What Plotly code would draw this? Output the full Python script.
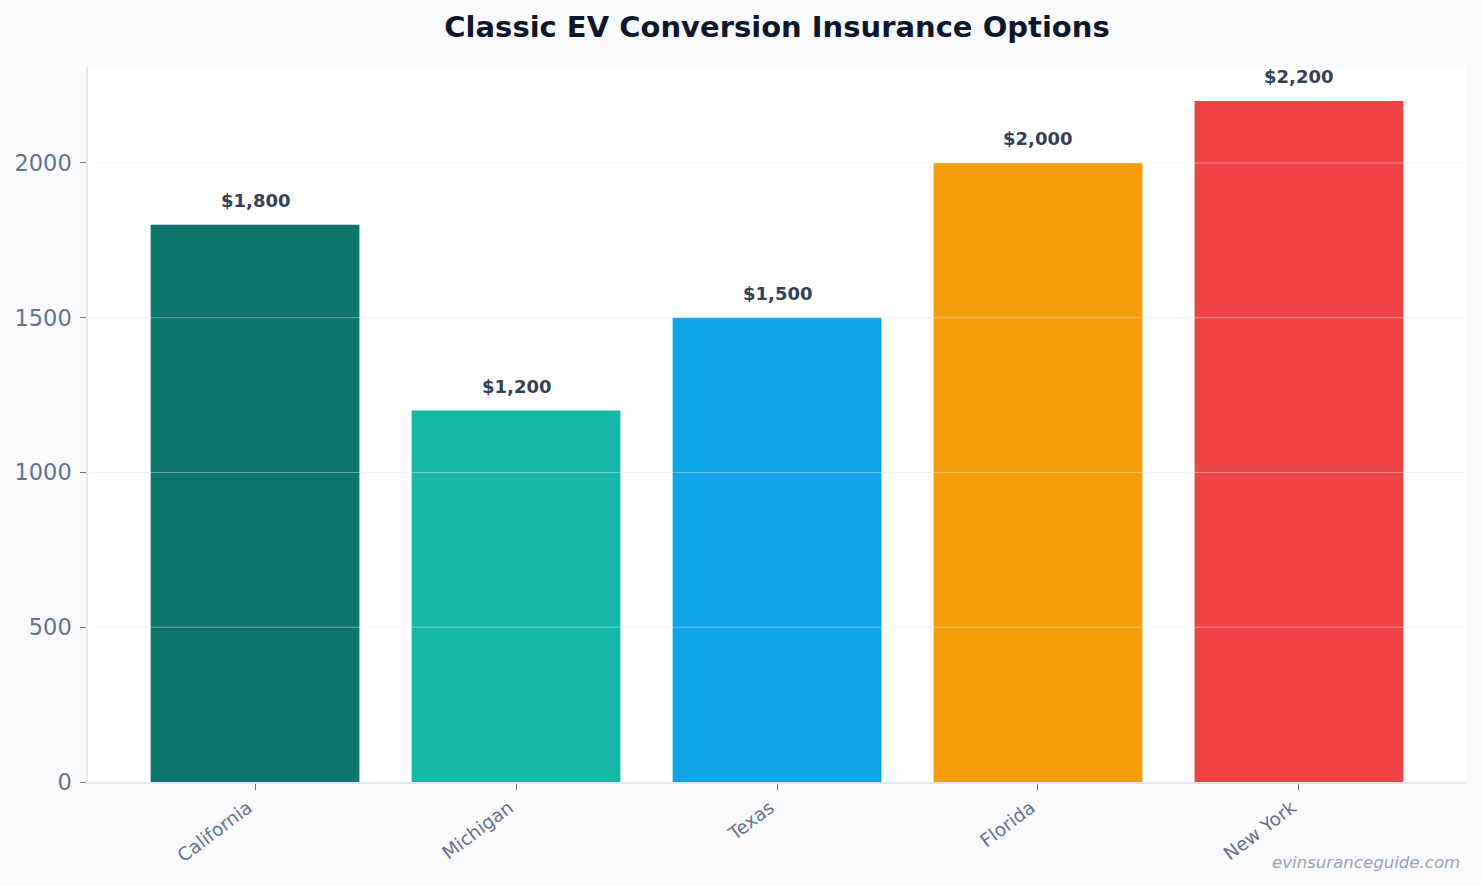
import plotly.graph_objects as go

states = ["California", "Michigan", "Texas", "Florida", "New York"]
premiums = [1800, 1200, 1500, 2000, 2200]
bar_colors = ["#0f766e", "#14b8a6", "#0ea5e9", "#f59e0b", "#ef4444"]
y_ticks = [0, 500, 1000, 1500, 2000]
labels = ["${:,}".format(v) for v in premiums]

FONT = "DejaVu Sans"

fig = go.Figure()
fig.add_trace(go.Bar(
    x=states, y=premiums, marker=dict(color=bar_colors, line=dict(width=0)),
    width=0.8, hoverinfo="skip",
))

for s, v, t in zip(states, premiums, labels):
    fig.add_annotation(x=s, y=v, text="<b>%s</b>" % t, showarrow=False,
                       yanchor="bottom", yshift=12,
                       font=dict(family=FONT, size=18, color="#334155"))

# gridlines drawn over the bars
for t in y_ticks[1:]:
    fig.add_shape(type="line", xref="paper", x0=0, x1=1, yref="y", y0=t, y1=t,
                  line=dict(color="rgba(226,232,240,0.45)", width=1), layer="above")

fig.add_annotation(xref="paper", yref="paper", x=0.997, y=-0.097, xanchor="right", yanchor="top",
                   text="<i>evinsuranceguide.com</i>", showarrow=False,
                   font=dict(family=FONT, size=16.6, color="#94a3b8"))

fig.update_layout(
    width=1481, height=886,
    margin=dict(l=88, r=15, t=67, b=104),
    paper_bgcolor="#f8fafc", plot_bgcolor="#ffffff",
    showlegend=False,
    title=dict(text="<b>Classic EV Conversion Insurance Options</b>", x=0.5, xref="paper",
               y=1 - 27 / 886, yanchor="middle",
               font=dict(family=FONT, size=29, color="#0f172a")),
    font=dict(family=FONT),
)
fig.update_xaxes(range=[-0.64, 4.64], showgrid=False, tickangle=-37,
                 tickfont=dict(family=FONT, size=18.5, color="#64748b"),
                 ticks="outside", ticklen=6, tickcolor="#64748b", ticklabelshift=-7,
                 showline=True, linecolor="#e2e8f0", linewidth=1.5, zeroline=False)
fig.update_yaxes(range=[0, 2310], tickvals=y_ticks, showgrid=False,
                 tickfont=dict(family=FONT, size=22.5, color="#64748b"),
                 ticks="outside", ticklen=6, tickcolor="#64748b", ticklabelstandoff=4,
                 showline=True, linecolor="#e2e8f0", linewidth=1.5, zeroline=False)

fig.write_html("out.html")
